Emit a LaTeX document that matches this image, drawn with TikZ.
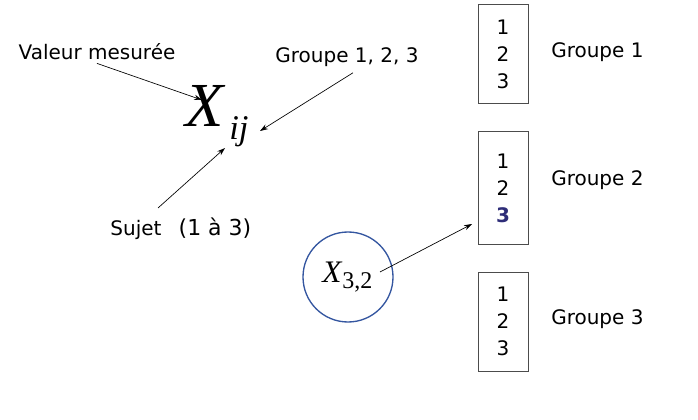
\documentclass[tikz,border=0pt]{standalone}
\usepackage{fontspec}
\setmainfont{DejaVu Sans}
\newfontfamily\timesfont{Liberation Serif}
\usepackage{xcolor}
\usetikzlibrary{arrows.meta,positioning}
\definecolor{navy}{RGB}{46,45,120}
\definecolor{ringblue}{RGB}{52,86,160}

\begin{document}
\begin{tikzpicture}[x=0.75pt,y=-0.75pt,
    lbl/.style={font=\fontsize{15}{18}\selectfont, inner sep=0pt},
    grpbox/.style={draw=black!70, line width=0.75pt, minimum width=37.5pt,
        inner sep=0pt, align=center, font=\fontsize{15}{20.25}\selectfont},
    pointer/.style={-{Stealth[length=6pt,width=4pt]}, line width=0.5pt}]
    \useasboundingbox (0,0) rectangle (698,420);

    % Notation X_ij
    \node[inner sep=0pt, anchor=base west] (xbig) at (185,127)
        {\timesfont\itshape\fontsize{47}{47}\selectfont X};
    \node[inner sep=0pt, anchor=base west] (xsub) at (229,140)
        {\timesfont\itshape\fontsize{26}{26}\selectfont ij};

    % Labels around the notation
    \node[lbl] (valeur) at (97,52) {Valeur mesurée};
    \node[lbl] (groupes) at (347,57) {Groupe 1, 2, 3};
    \node[lbl, anchor=base] (sujet) at (136,235) {Sujet};
    \node[lbl, anchor=base, font=\fontsize{16.5}{18}\selectfont] (range) at (215,235) {(1 à 3)};

    % Arrow ends
    \coordinate (tipvaleur) at (202,100);
    \coordinate (tipgroupe) at (260,131);
    \coordinate (tailsujet) at (158,208);
    \coordinate (tipsujet) at (225,148);
    \draw[pointer] (valeur.south) ++(0,3) -- (tipvaleur);
    \draw[pointer] (groupes.south) ++(6,6) -- (tipgroupe);
    \draw[pointer] (tailsujet) -- (tipsujet);

    % Groups with their subjects
    \node[grpbox, minimum height=74.25pt] (box1) at (503,54.5) {1\\2\\3};
    \node[grpbox, minimum height=84pt] (box2) at (503,188) {1\\2\\{\bfseries\color{navy}3}};
    \node[grpbox, minimum height=74.25pt] (box3) at (503,321.5) {1\\2\\3};
    \foreach \k/\y in {1/52,2/180,3/319}
        \node[lbl, anchor=west] (grp\k) at (551,\y) {Groupe \k};

    % Example X_{3,2}
    \node[circle, draw=ringblue, line width=1pt, minimum size=67.5pt] (ring) at (348,277) {};
    \node[inner sep=0pt, anchor=base west] (x32) at (322,282)
        {\timesfont\fontsize{23.5}{24}\selectfont\textit{X}\raisebox{-4.5pt}{\fontsize{18}{18}\selectfont 3,2}};
    \coordinate (tailring) at (380,272);
    \coordinate (tipbox) at (472,224);
    \draw[pointer] (tailring) -- (tipbox);
\end{tikzpicture}
\end{document}
